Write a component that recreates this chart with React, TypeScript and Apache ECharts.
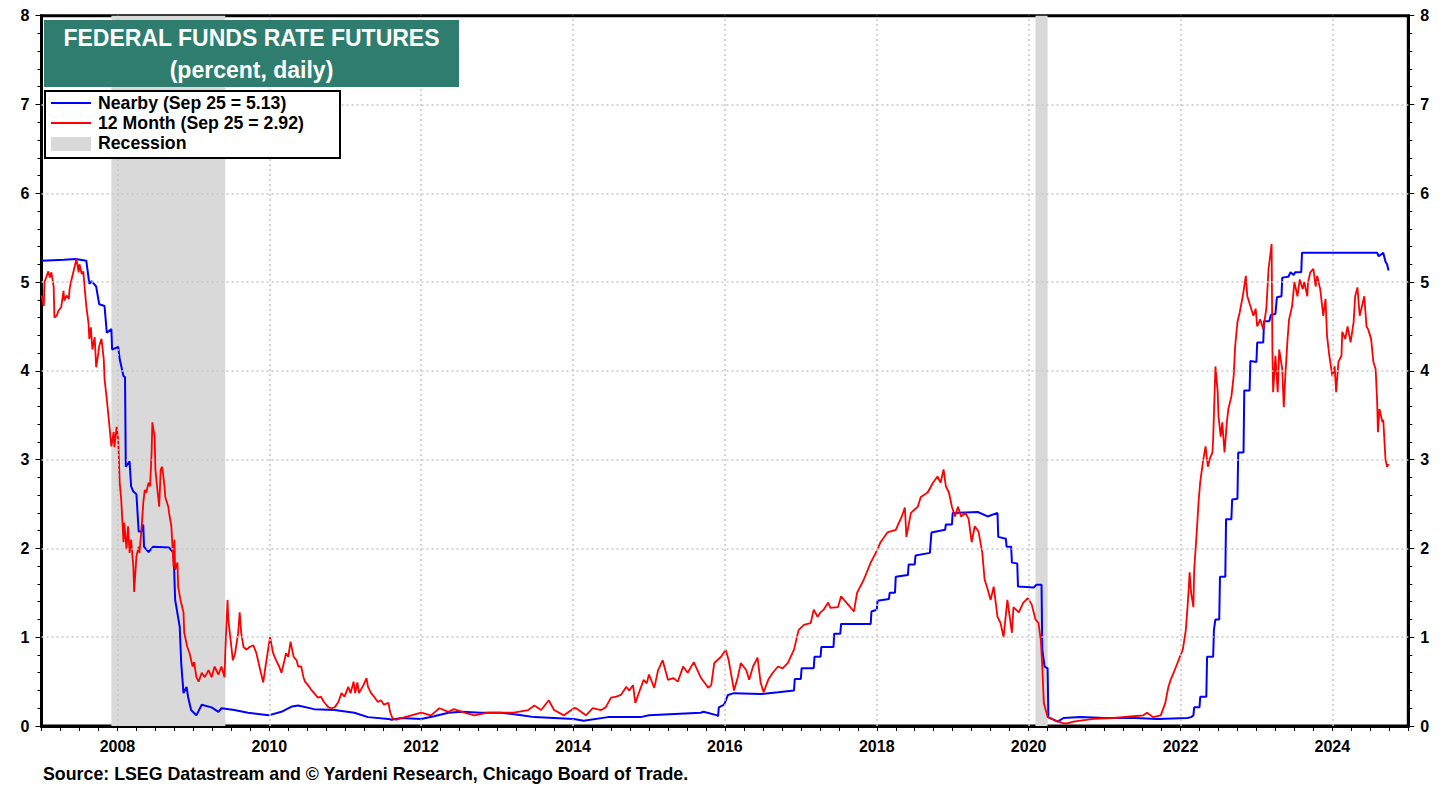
import React, { useEffect, useRef } from "react";
import * as echarts from "echarts";

// ---- DATA ----
const nearbyDates = [
  2007.0, 2007.3, 2007.45, 2007.59, 2007.63, 2007.66, 2007.72, 2007.76, 2007.83, 2007.86, 2007.92, 2007.93,
  2008.01, 2008.03, 2008.08, 2008.1, 2008.11, 2008.16, 2008.18, 2008.21, 2008.25, 2008.28, 2008.32, 2008.34,
  2008.35, 2008.41, 2008.47, 2008.68, 2008.74, 2008.76, 2008.82, 2008.84, 2008.87, 2008.91, 2008.93, 2008.97,
  2009.04, 2009.11, 2009.24, 2009.33, 2009.37, 2009.54, 2009.72, 2009.99, 2010.16, 2010.3, 2010.38, 2010.59,
  2010.86, 2011.12, 2011.3, 2011.57, 2011.61, 2011.74, 2012.0, 2012.17, 2012.36, 2012.53, 2012.79, 2013.05,
  2013.32, 2013.49, 2013.75, 2014.01, 2014.14, 2014.46, 2014.89, 2015.0, 2015.68, 2015.72, 2015.9, 2015.91,
  2015.92, 2015.99, 2016.04, 2016.12, 2016.47, 2016.7, 2016.91, 2016.92, 2017.0, 2017.01, 2017.17, 2017.18,
  2017.26, 2017.27, 2017.43, 2017.44, 2017.52, 2017.53, 2017.92, 2017.93, 2018.0, 2018.01, 2018.16, 2018.17,
  2018.24, 2018.25, 2018.41, 2018.42, 2018.5, 2018.51, 2018.7, 2018.72, 2018.9, 2018.91, 2018.99, 2019.0,
  2019.33, 2019.46, 2019.59, 2019.6, 2019.7, 2019.71, 2019.77, 2019.78, 2019.85, 2019.86, 2020.07, 2020.1,
  2020.17, 2020.18, 2020.21, 2020.25, 2020.26, 2020.38, 2020.46, 2020.68, 2021.0, 2021.4, 2021.7, 2022.09,
  2022.14, 2022.17, 2022.18, 2022.25, 2022.26, 2022.34, 2022.35, 2022.43, 2022.44, 2022.46, 2022.51, 2022.52,
  2022.59, 2022.6, 2022.67, 2022.68, 2022.75, 2022.76, 2022.83, 2022.84, 2022.91, 2022.92, 2023.0, 2023.01,
  2023.09, 2023.1, 2023.17, 2023.19, 2023.25, 2023.27, 2023.33, 2023.34, 2023.42, 2023.45, 2023.49, 2023.51,
  2023.59, 2023.6, 2024.59, 2024.61, 2024.67, 2024.7, 2024.72, 2024.74,
];
const nearbyValues = [
  5.24, 5.25, 5.26, 5.24, 4.98, 5.01, 4.95, 4.75, 4.73, 4.43, 4.47, 4.24,
  4.27, 4.13, 3.94, 3.93, 2.92, 2.98, 2.7, 2.64, 2.61, 2.19, 2.19, 2.27,
  2.02, 1.96, 2.02, 2.01, 1.95, 1.42, 1.12, 0.71, 0.37, 0.44, 0.33, 0.18,
  0.12, 0.24, 0.21, 0.16, 0.2, 0.18, 0.15, 0.12, 0.16, 0.22, 0.23, 0.19,
  0.18, 0.15, 0.1, 0.08, 0.07, 0.09, 0.08, 0.11, 0.15, 0.16, 0.15, 0.15,
  0.12, 0.1, 0.09, 0.08, 0.06, 0.1, 0.1, 0.12, 0.15, 0.16, 0.12, 0.11,
  0.21, 0.24, 0.35, 0.37, 0.36, 0.38, 0.4, 0.53, 0.53, 0.65, 0.65, 0.78,
  0.78, 0.89, 0.89, 1.04, 1.04, 1.15, 1.15, 1.29, 1.31, 1.41, 1.43, 1.5,
  1.5, 1.68, 1.7, 1.82, 1.82, 1.92, 1.95, 2.18, 2.21, 2.27, 2.27, 2.4,
  2.41, 2.36, 2.4, 2.13, 2.11, 2.02, 2.02, 1.84, 1.83, 1.57, 1.56, 1.59,
  1.59, 0.86, 0.67, 0.65, 0.1, 0.05, 0.09, 0.1, 0.09, 0.09, 0.08, 0.09,
  0.1, 0.12, 0.21, 0.21, 0.33, 0.33, 0.78, 0.78, 1.08, 1.2, 1.2, 1.68,
  1.68, 2.33, 2.33, 2.55, 2.56, 3.08, 3.08, 3.78, 3.78, 4.11, 4.1, 4.32,
  4.32, 4.56, 4.56, 4.63, 4.64, 4.83, 4.84, 5.05, 5.06, 5.11, 5.08, 5.11,
  5.11, 5.33, 5.33, 5.29, 5.33, 5.23, 5.2, 5.13,
];

const month12Dates = [
  2007.0, 2007.03, 2007.04, 2007.09, 2007.11, 2007.13, 2007.16, 2007.17, 2007.2, 2007.22, 2007.26, 2007.29,
  2007.3, 2007.33, 2007.36, 2007.37, 2007.39, 2007.43, 2007.46, 2007.49, 2007.5, 2007.53, 2007.55, 2007.57,
  2007.59, 2007.62, 2007.63, 2007.65, 2007.67, 2007.7, 2007.72, 2007.75, 2007.76, 2007.79, 2007.82, 2007.83,
  2007.86, 2007.89, 2007.92, 2007.95, 2007.96, 2007.99, 2008.01, 2008.03, 2008.05, 2008.08, 2008.09, 2008.12,
  2008.14, 2008.16, 2008.18, 2008.21, 2008.22, 2008.25, 2008.28, 2008.29, 2008.32, 2008.34, 2008.36, 2008.38,
  2008.41, 2008.43, 2008.45, 2008.46, 2008.49, 2008.5, 2008.53, 2008.55, 2008.57, 2008.59, 2008.62, 2008.63,
  2008.64, 2008.67, 2008.68, 2008.71, 2008.74, 2008.75, 2008.76, 2008.79, 2008.8, 2008.83, 2008.87, 2008.88,
  2008.92, 2008.95, 2008.99, 2009.01, 2009.04, 2009.07, 2009.11, 2009.15, 2009.2, 2009.24, 2009.28, 2009.33,
  2009.37, 2009.41, 2009.42, 2009.45, 2009.46, 2009.49, 2009.52, 2009.55, 2009.59, 2009.61, 2009.63, 2009.66,
  2009.7, 2009.74, 2009.79, 2009.83, 2009.87, 2009.92, 2009.95, 2009.99, 2010.01, 2010.05, 2010.09, 2010.13,
  2010.16, 2010.2, 2010.22, 2010.25, 2010.28, 2010.32, 2010.36, 2010.38, 2010.42, 2010.45, 2010.47, 2010.51,
  2010.55, 2010.59, 2010.64, 2010.68, 2010.72, 2010.78, 2010.82, 2010.86, 2010.91, 2010.95, 2010.99, 2011.04,
  2011.07, 2011.11, 2011.13, 2011.16, 2011.18, 2011.24, 2011.28, 2011.3, 2011.34, 2011.38, 2011.43, 2011.47,
  2011.51, 2011.57, 2011.59, 2011.62, 2011.67, 2011.74, 2011.87, 2012.0, 2012.13, 2012.24, 2012.36, 2012.43,
  2012.57, 2012.7, 2012.88, 2013.05, 2013.22, 2013.41, 2013.49, 2013.58, 2013.68, 2013.75, 2013.88, 2014.01,
  2014.04, 2014.17, 2014.26, 2014.37, 2014.43, 2014.5, 2014.57, 2014.63, 2014.7, 2014.74, 2014.79, 2014.82,
  2014.87, 2014.93, 2014.97, 2015.0, 2015.07, 2015.12, 2015.18, 2015.25, 2015.32, 2015.38, 2015.45, 2015.51,
  2015.59, 2015.68, 2015.78, 2015.82, 2015.86, 2015.95, 2016.01, 2016.05, 2016.12, 2016.17, 2016.21, 2016.28,
  2016.32, 2016.37, 2016.43, 2016.47, 2016.51, 2016.57, 2016.63, 2016.7, 2016.76, 2016.83, 2016.91, 2016.97,
  2017.04, 2017.13, 2017.17, 2017.22, 2017.26, 2017.3, 2017.36, 2017.39, 2017.49, 2017.53, 2017.62, 2017.7,
  2017.74, 2017.83, 2017.92, 2018.01, 2018.05, 2018.14, 2018.25, 2018.33, 2018.37, 2018.39, 2018.45, 2018.54,
  2018.58, 2018.67, 2018.74, 2018.8, 2018.84, 2018.88, 2018.91, 2018.95, 2018.99, 2019.03, 2019.07, 2019.11,
  2019.17, 2019.21, 2019.25, 2019.29, 2019.34, 2019.39, 2019.42, 2019.46, 2019.5, 2019.54, 2019.59, 2019.63,
  2019.67, 2019.72, 2019.78, 2019.8, 2019.87, 2019.93, 2019.99, 2020.04, 2020.09, 2020.13, 2020.16, 2020.18,
  2020.2, 2020.25, 2020.33, 2020.46, 2020.51, 2020.59, 2020.68, 2020.86, 2021.12, 2021.38, 2021.51, 2021.56,
  2021.64, 2021.74, 2021.8, 2021.84, 2021.87, 2021.91, 2021.96, 2022.03, 2022.07, 2022.09, 2022.11, 2022.12,
  2022.14, 2022.17, 2022.18, 2022.21, 2022.24, 2022.26, 2022.3, 2022.33, 2022.36, 2022.39, 2022.42, 2022.43,
  2022.46, 2022.49, 2022.5, 2022.53, 2022.55, 2022.58, 2022.61, 2022.63, 2022.67, 2022.7, 2022.72, 2022.75,
  2022.78, 2022.82, 2022.86, 2022.88, 2022.92, 2022.96, 2022.99, 2023.01, 2023.05, 2023.09, 2023.13, 2023.16,
  2023.2, 2023.21, 2023.22, 2023.25, 2023.28, 2023.3, 2023.34, 2023.36, 2023.38, 2023.41, 2023.43, 2023.47,
  2023.5, 2023.54, 2023.57, 2023.61, 2023.63, 2023.67, 2023.68, 2023.71, 2023.75, 2023.78, 2023.8, 2023.84,
  2023.88, 2023.91, 2023.93, 2023.96, 2024.0, 2024.03, 2024.05, 2024.08, 2024.12, 2024.13, 2024.17, 2024.2,
  2024.24, 2024.28, 2024.3, 2024.33, 2024.36, 2024.39, 2024.42, 2024.45, 2024.47, 2024.51, 2024.54, 2024.57,
  2024.59, 2024.6, 2024.62, 2024.66, 2024.67, 2024.7, 2024.72, 2024.74,
];
const month12Values = [
  4.85, 4.73, 5.0, 5.12, 5.05, 5.11, 4.95, 4.6, 4.62, 4.67, 4.72, 4.9,
  4.79, 4.85, 4.81, 4.92, 5.01, 5.15, 5.26, 5.11, 5.2, 5.09, 5.12, 4.92,
  4.73, 4.53, 4.36, 4.49, 4.24, 4.38, 4.04, 4.21, 4.28, 4.36, 4.13, 3.91,
  3.68, 3.42, 3.15, 3.31, 3.14, 3.37, 3.23, 2.74, 2.55, 2.07, 2.29, 1.99,
  2.25, 1.95, 2.1, 1.79, 1.51, 1.91, 2.02, 1.95, 2.25, 2.51, 2.66, 2.63,
  2.74, 2.7, 3.08, 3.42, 3.26, 2.89, 2.63, 2.47, 2.89, 2.92, 2.7, 2.58,
  2.55, 2.47, 2.4, 2.25, 1.79, 2.1, 1.76, 1.84, 1.57, 1.42, 1.28, 1.05,
  0.89, 0.82, 0.67, 0.72, 0.55, 0.5, 0.6, 0.55, 0.63, 0.55, 0.67, 0.58,
  0.67, 0.55, 0.82, 1.42, 1.2, 0.97, 0.74, 0.82, 1.05, 1.28, 1.05, 0.89,
  0.86, 0.89, 0.91, 0.82, 0.67, 0.49, 0.67, 0.89, 1.0, 0.82, 0.74, 0.67,
  0.6, 0.74, 0.82, 0.78, 0.95, 0.78, 0.74, 0.67, 0.67, 0.55, 0.5, 0.46,
  0.41, 0.37, 0.32, 0.33, 0.27, 0.21, 0.2, 0.21, 0.27, 0.37, 0.33, 0.44,
  0.37, 0.5, 0.37, 0.49, 0.37, 0.46, 0.54, 0.44, 0.37, 0.33, 0.27, 0.29,
  0.24, 0.26, 0.16, 0.09, 0.07, 0.09, 0.12, 0.15, 0.12, 0.2, 0.16, 0.19,
  0.15, 0.12, 0.15, 0.15, 0.15, 0.18, 0.23, 0.18, 0.29, 0.18, 0.12, 0.2,
  0.2, 0.12, 0.2, 0.18, 0.21, 0.32, 0.33, 0.35, 0.44, 0.4, 0.46, 0.26,
  0.38, 0.52, 0.48, 0.58, 0.43, 0.63, 0.74, 0.52, 0.54, 0.5, 0.67, 0.6,
  0.72, 0.55, 0.43, 0.46, 0.71, 0.78, 0.86, 0.74, 0.4, 0.55, 0.71, 0.63,
  0.52, 0.67, 0.77, 0.49, 0.38, 0.52, 0.6, 0.67, 0.65, 0.71, 0.86, 1.08,
  1.14, 1.16, 1.31, 1.23, 1.28, 1.31, 1.39, 1.33, 1.34, 1.46, 1.37, 1.29,
  1.5, 1.65, 1.84, 1.99, 2.07, 2.18, 2.21, 2.36, 2.46, 2.13, 2.4, 2.47,
  2.58, 2.63, 2.74, 2.81, 2.74, 2.89, 2.7, 2.63, 2.47, 2.36, 2.47, 2.36,
  2.4, 2.33, 2.07, 2.25, 2.19, 1.95, 1.65, 1.54, 1.42, 1.57, 1.23, 1.16,
  1.0, 1.42, 1.05, 1.34, 1.28, 1.39, 1.44, 1.37, 1.2, 1.16, 0.97, 0.67,
  0.26, 0.1, 0.07, 0.03, 0.03, 0.05, 0.06, 0.08, 0.09, 0.11, 0.12, 0.15,
  0.1, 0.12, 0.26, 0.44, 0.52, 0.6, 0.71, 0.86, 1.08, 1.31, 1.57, 1.73,
  1.5, 1.34, 1.76, 2.13, 2.55, 2.75, 3.0, 3.15, 2.92, 3.02, 3.08, 3.23,
  4.05, 3.76, 3.49, 3.26, 3.42, 3.08, 3.42, 3.57, 3.71, 3.94, 4.28, 4.55,
  4.66, 4.84, 5.07, 4.84, 4.73, 4.62, 4.7, 4.5, 4.58, 4.47, 4.7, 5.15,
  5.43, 4.24, 3.76, 4.17, 3.76, 4.24, 4.02, 3.59, 3.94, 4.36, 4.58, 4.73,
  5.0, 4.84, 5.03, 4.92, 5.0, 4.84, 5.0, 5.11, 5.15, 4.95, 5.07, 4.92,
  4.62, 4.81, 4.39, 4.17, 3.94, 4.05, 3.76, 4.1, 4.17, 4.44, 4.36, 4.5,
  4.32, 4.55, 4.84, 4.94, 4.62, 4.73, 4.84, 4.5, 4.47, 4.36, 4.1, 4.02,
  3.65, 3.31, 3.57, 3.42, 3.45, 3.0, 2.92, 2.95,
];

const recessionStarts = [2007.92, 2020.09];
const recessionEnds = [2009.42, 2020.25];
const gridYears = [2008, 2010, 2012, 2014, 2016, 2018, 2020, 2022, 2024];
const gridValues = [1, 2, 3, 4, 5, 6, 7];

const titleLines = ["FEDERAL FUNDS RATE FUTURES", "(percent, daily)"];
const legendLabels = ["Nearby (Sep 25 = 5.13)", "12 Month (Sep 25 = 2.92)", "Recession"];
const sourceText = "Source: LSEG Datastream and \u00A9 Yardeni Research, Chicago Board of Trade.";

const FONT = '"Liberation Sans", Arial, sans-serif';

export default function App() {
  const ref = useRef<HTMLDivElement>(null);
  useEffect(() => {
    if (!ref.current) return;
    const chart = echarts.init(ref.current, null, { renderer: "svg" });
    const nearby = nearbyDates.map((d, i) => [d, nearbyValues[i]]);
    const m12 = month12Dates.map((d, i) => [d, month12Values[i]]);

    const yAxisBase = {
      type: "value",
      min: 0,
      max: 8,
      interval: 1,
      axisLine: { show: true, lineStyle: { color: "#000", width: 3 } },
      axisTick: { show: true, length: 6, lineStyle: { color: "#000", width: 1 } },
      minorTick: { show: true, splitNumber: 5, length: 4, lineStyle: { color: "#000", width: 1 } },
      axisLabel: { fontSize: 16, fontWeight: "bold", color: "#000", fontFamily: FONT, margin: 12 },
      splitLine: { show: false },
    };

    const option: any = {
      animation: false,
      backgroundColor: "#fff",
      textStyle: { fontFamily: FONT },
      grid: {
        left: 41.5,
        right: 41.7,
        top: 15.7,
        bottom: 63,
        show: true,
        borderColor: "#000",
        borderWidth: 3,
        backgroundColor: "transparent",
      },
      xAxis: {
        type: "value",
        min: 2007,
        max: 2025,
        interval: 0.25,
        axisLine: { show: true, lineStyle: { color: "#000", width: 3 } },
        axisTick: { show: true, length: 5, lineStyle: { color: "#000", width: 1 } },
        axisLabel: {
          formatter: (v: number) => (Math.abs(v - 2 * Math.round(v / 2)) < 1e-6 ? String(Math.round(v)) : ""),
          fontSize: 16,
          fontWeight: "bold",
          color: "#000",
          fontFamily: FONT,
          margin: 12,
        },
        splitLine: { show: false },
      },
      yAxis: [
        { ...yAxisBase, position: "left" },
        { ...yAxisBase, position: "right" },
      ],
      series: [
        {
          name: "Recession",
          type: "line",
          data: [],
          z: 1,
          silent: true,
          markArea: {
            silent: true,
            itemStyle: { color: "#d9d9d9" },
            data: recessionStarts.map((s, i) => [{ xAxis: s }, { xAxis: recessionEnds[i] }]),
          },
        },
        {
          name: "grid",
          type: "line",
          data: [],
          z: 2,
          silent: true,
          markLine: {
            silent: true,
            symbol: ["none", "none"],
            label: { show: false },
            lineStyle: { type: [2, 3], color: "#c8c8c8", width: 1.5 },
            data: [
              ...gridYears.map((y) => ({ xAxis: y })),
              ...gridValues.map((v) => ({ yAxis: v })),
            ],
          },
        },
        {
          name: "Nearby",
          type: "line",
          data: nearby,
          showSymbol: false,
          z: 3,
          lineStyle: { color: "#0000ff", width: 2 },
          itemStyle: { color: "#0000ff" },
        },
        {
          name: "12 Month",
          type: "line",
          data: m12,
          showSymbol: false,
          z: 4,
          lineStyle: { color: "#ff0000", width: 1.8 },
          itemStyle: { color: "#ff0000" },
        },
      ],
      graphic: [
        {
          type: "rect",
          z: 100,
          shape: { x: 44, y: 20, width: 415, height: 67 },
          style: { fill: "#2e7d6f" },
        },
        {
          type: "text",
          z: 101,
          x: 251.5,
          y: 38,
          style: {
            text: titleLines[0],
            fill: "#fff",
            font: `bold 23px ${FONT}`,
            textAlign: "center",
            textVerticalAlign: "middle",
          },
        },
        {
          type: "text",
          z: 101,
          x: 251.5,
          y: 70,
          style: {
            text: titleLines[1],
            fill: "#fff",
            font: `bold 23px ${FONT}`,
            textAlign: "center",
            textVerticalAlign: "middle",
          },
        },
        {
          type: "rect",
          z: 100,
          shape: { x: 45, y: 91, width: 295, height: 67 },
          style: { fill: "#fff", stroke: "#000", lineWidth: 2 },
        },
        {
          type: "line",
          z: 101,
          shape: { x1: 51, y1: 103, x2: 91, y2: 103 },
          style: { stroke: "#0000ff", lineWidth: 2 },
        },
        {
          type: "line",
          z: 101,
          shape: { x1: 51, y1: 123, x2: 91, y2: 123 },
          style: { stroke: "#ff0000", lineWidth: 2 },
        },
        {
          type: "rect",
          z: 101,
          shape: { x: 51, y: 137, width: 40, height: 14 },
          style: { fill: "#d9d9d9" },
        },
        ...legendLabels.map((t, i) => ({
          type: "text",
          z: 101,
          x: 98,
          y: 103 + i * 20,
          style: {
            text: t,
            fill: "#000",
            font: `bold 17.7px ${FONT}`,
            textAlign: "left",
            textVerticalAlign: "middle",
          },
        })),
        {
          type: "text",
          z: 101,
          x: 43,
          y: 774,
          style: {
            text: sourceText,
            fill: "#000",
            font: `bold 17.8px ${FONT}`,
            textAlign: "left",
            textVerticalAlign: "middle",
          },
        },
      ],
    };
    chart.setOption(option);
    return () => chart.dispose();
  }, []);
  return (
    <div
      ref={ref}
      style={{ position: "fixed", left: 0, top: 0, width: 1450, height: 789, background: "#fff" }}
    />
  );
}
